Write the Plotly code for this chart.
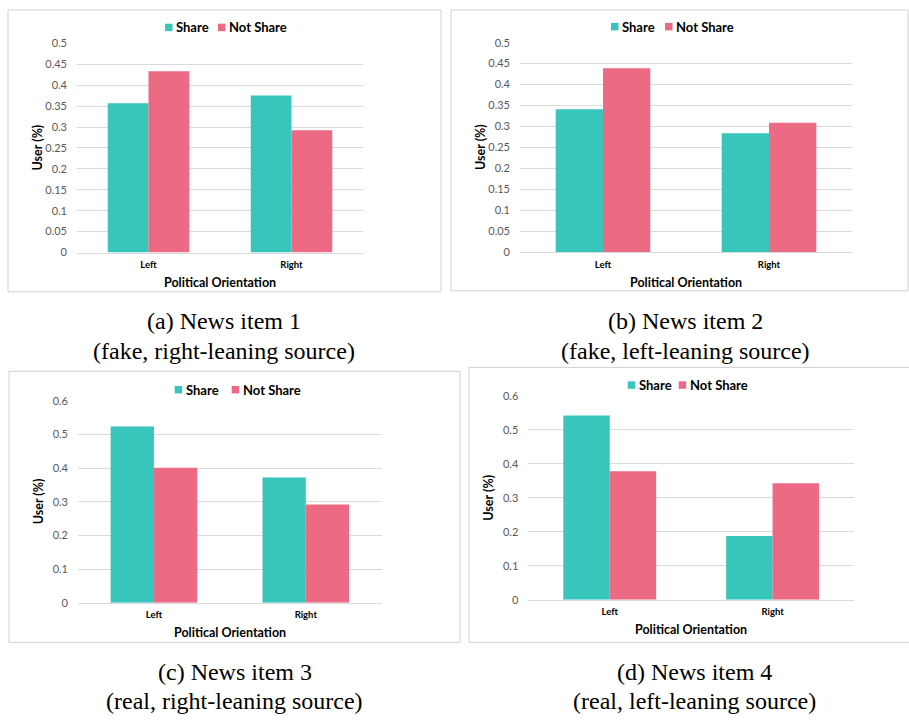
import plotly.graph_objects as go

# Survey results: share of users by political orientation, per news item
categories = ["Left", "Right"]

item1_share = [0.357, 0.375]
item1_not_share = [0.433, 0.292]

item2_share = [0.341, 0.284]
item2_not_share = [0.439, 0.309]

item3_share = [0.524, 0.372]
item3_not_share = [0.401, 0.292]

item4_share = [0.542, 0.188]
item4_not_share = [0.378, 0.343]

series_names = ["Share", "Not Share"]

captions = [
    ("(a) News item 1", "(fake, right-leaning source)"),
    ("(b) News item 2", "(fake, left-leaning source)"),
    ("(c) News item 3", "(real, right-leaning source)"),
    ("(d) News item 4", "(real, left-leaning source)"),
]

y_max = [0.5, 0.5, 0.6, 0.6]
y_step = [0.05, 0.05, 0.1, 0.1]

W, H = 909, 723
COLORS = ["#38C5BB", "#EC6A84"]
GRID = "#DADADA"
SANS = "Lato"
SERIF = "Liberation Serif"


def px(x):
    return x / W


def py(y):
    return 1 - y / H


# Panel geometry in pixels: plot area, frame, legend (left x, centre y, gap to 2nd swatch), caption centre
panels = [
    dict(plot=(77, 363, 37, 250), frame=(8, 441, 3, 290), legend=(165, 20.8, 53), caption=(224, 320)),
    dict(plot=(520, 852, 36.3, 249.7), frame=(451, 908, 3, 289), legend=(611, 20, 54), caption=(685, 320)),
    dict(plot=(78, 381.7, 401, 606.7), frame=(9, 460, 371, 647), legend=(174.7, 389.7, 57), caption=(235, 677)),
    dict(plot=(528.3, 854, 396, 603.7), frame=(469, 910, 367, 647), legend=(627.7, 385, 51), caption=(694, 677)),
]

series = [
    (item1_share, item1_not_share),
    (item2_share, item2_not_share),
    (item3_share, item3_not_share),
    (item4_share, item4_not_share),
]

fig = go.Figure()
layout = dict(
    width=W,
    height=H,
    margin=dict(l=0, r=0, t=0, b=0),
    paper_bgcolor="white",
    plot_bgcolor="white",
    barmode="group",
    bargap=0.43,
    bargroupgap=0,
    showlegend=False,
    shapes=[],
    annotations=[],
)

for i, (panel, values) in enumerate(zip(panels, series)):
    n = i + 1
    xa = "x" if n == 1 else f"x{n}"
    ya = "y" if n == 1 else f"y{n}"

    for name, vals, color in zip(series_names, values, COLORS):
        fig.add_trace(go.Bar(x=categories, y=vals, name=name,
                             marker=dict(color=color, line=dict(width=0)),
                             xaxis=xa, yaxis=ya))

    x0, x1, y0, y1 = panel["plot"]
    xkey = "xaxis" if n == 1 else f"xaxis{n}"
    ykey = "yaxis" if n == 1 else f"yaxis{n}"
    layout[xkey] = dict(
        domain=[px(x0), px(x1)], anchor=ya, type="category",
        showgrid=False, showline=True, linecolor=GRID, linewidth=1, ticks="",
        tickfont=dict(family=SANS, size=9.5, color="#000000", weight="bold"),
        ticklabelstandoff=3, fixedrange=True,
    )
    layout[ykey] = dict(
        domain=[py(y1), py(y0)], anchor=xa, range=[0, y_max[i]],
        dtick=y_step[i], tick0=0, showgrid=True, gridcolor=GRID, gridwidth=1,
        zeroline=False, showline=False, ticks="",
        tickfont=dict(family=SANS, size=11, color="#595959"),
        ticklabelstandoff=9, fixedrange=True,
    )

    # legend: colour swatch followed by series name
    lx, ly, gap = panel["legend"]
    for k, (name, color) in enumerate(zip(series_names, COLORS)):
        sx = lx + k * gap
        layout["shapes"].append(dict(
            type="rect", xref="paper", yref="paper",
            x0=px(sx), x1=px(sx + 7.5), y0=py(ly + 3.8), y1=py(ly - 3.8),
            line=dict(width=0), fillcolor=color,
        ))
        layout["annotations"].append(dict(
            text=name, xref="paper", yref="paper",
            x=px(sx + 9), y=py(ly), xanchor="left", yanchor="middle",
            showarrow=False, font=dict(family=SANS, size=13, color="#000000", weight="bold"),
        ))

    fx0, fx1, fy0, fy1 = panel["frame"]
    layout["shapes"].append(dict(
        type="rect", xref="paper", yref="paper",
        x0=px(fx0), x1=px(fx1), y0=py(fy1), y1=py(fy0),
        line=dict(color="#D0D0D0", width=1), fillcolor="rgba(0,0,0,0)", layer="below",
    ))

    # axis titles
    layout["annotations"].append(dict(
        text="Political Orientation", xref="paper", yref="paper",
        x=px((x0 + x1) / 2), y=py(y1 + 30.5), xanchor="center", yanchor="middle",
        showarrow=False, font=dict(family=SANS, size=12.5, color="#000000", weight="bold"),
    ))
    layout["annotations"].append(dict(
        text="User (%)", xref="paper", yref="paper",
        x=px(x0 - 39.5), y=py((y0 + y1) / 2), xanchor="center", yanchor="middle",
        textangle=-90, showarrow=False,
        font=dict(family=SANS, size=12.5, color="#000000", weight="bold"),
    ))

    # sub-figure caption
    cx, cy = panel["caption"]
    for k, txt in enumerate(captions[i]):
        layout["annotations"].append(dict(
            text=txt, xref="paper", yref="paper",
            x=px(cx), y=py(cy + 30 * k), xanchor="center", yanchor="middle",
            showarrow=False, font=dict(family=SERIF, size=24, color="#000000"),
        ))

fig.update_layout(**layout)
fig.write_html("out.html")
